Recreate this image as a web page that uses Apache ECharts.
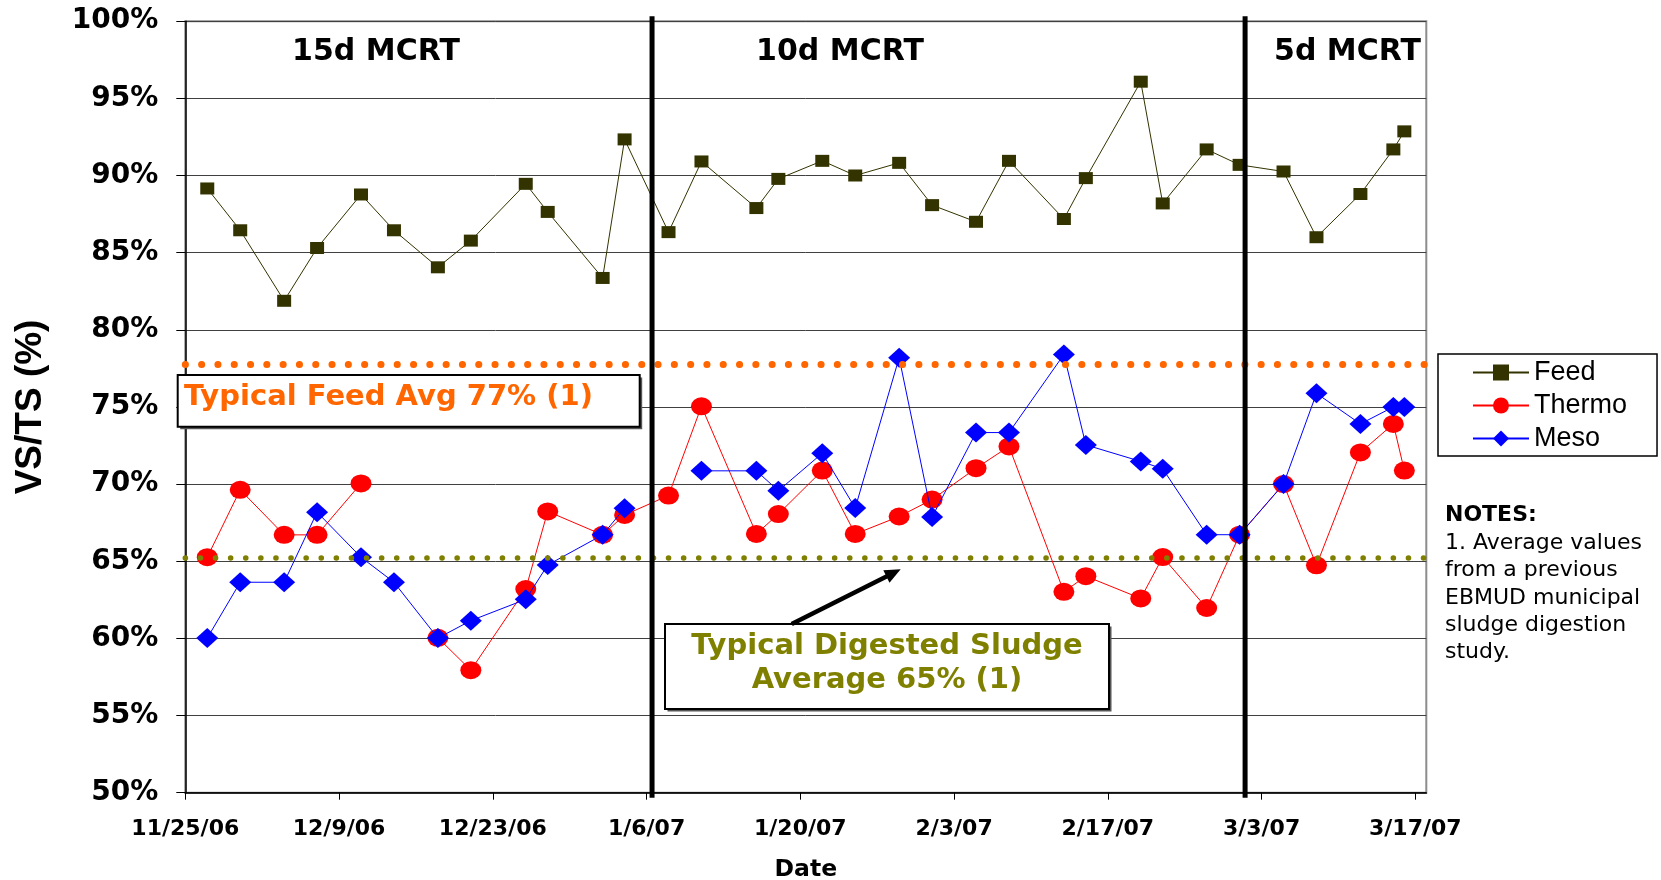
<!DOCTYPE html>
<html><head><meta charset="utf-8">
<script src="https://cdn.jsdelivr.net/npm/echarts@6/dist/echarts.min.js"></script>
<style>html,body{margin:0;padding:0;background:#fff}#c{width:1661px;height:880px}</style>
</head><body><div id="c"></div>
<script>
// ---- data ----
const startDate = '2006-11-25';
const endDate = '2007-03-18';
const tickDays = 14;
const dates = ['2006-11-27','2006-11-30','2006-12-04','2006-12-07','2006-12-11','2006-12-14','2006-12-18','2006-12-21','2006-12-26','2006-12-28',
  '2007-01-02','2007-01-04','2007-01-08','2007-01-11','2007-01-16','2007-01-18','2007-01-22','2007-01-25','2007-01-29','2007-02-01',
  '2007-02-05','2007-02-08','2007-02-13','2007-02-15','2007-02-20','2007-02-22','2007-02-26','2007-03-01','2007-03-05','2007-03-08',
  '2007-03-12','2007-03-15','2007-03-16'];
const feed = [89.16,86.45,81.88,85.30,88.77,86.45,84.05,85.78,89.46,87.64,
  83.36,92.34,86.33,90.91,87.89,89.78,90.95,90.0,90.82,88.08,
  87.0,90.95,87.18,89.83,96.08,88.19,91.69,90.69,90.26,86.0,
  88.8,91.69,92.86];
const thermo = [65.26,69.63,66.71,66.71,70.04,null,60.04,57.94,63.2,68.23,
  66.71,68.0,69.26,75.04,66.77,68.06,70.88,66.77,67.9,69.0,
  71.03,72.44,63.02,64.03,62.59,65.27,61.97,66.72,70.0,64.74,
  72.05,73.9,70.88];
const meso = [60.02,63.64,63.64,68.18,65.26,63.64,60.02,61.15,62.53,64.76,
  66.71,68.44,null,70.86,70.86,69.57,72.0,68.45,78.19,67.87,
  73.34,73.34,78.4,72.54,71.47,70.99,66.72,66.72,70.0,75.88,
  73.9,75.0,75.0];
const dividers = ['2007-01-06T12:00:00Z','2007-03-01T12:00:00Z'];
const periodLabels = ['15d MCRT','10d MCRT','5d MCRT'];
const refValues = [77.75, 65.2];
const yMin = 50, yMax = 100, yStep = 5;

// ---- helpers ----
const DAY = 864e5;
const t0 = Date.parse(startDate);
const dayOf = s => (Date.parse(s) - t0) / DAY;
const pts = arr => dates.map((d, i) => [dayOf(d), arr[i] == null ? '-' : arr[i]]);
const fmtDay = v => {
  if (Math.abs(v % tickDays) > 1e-6) return '';
  const d = new Date(t0 + v * DAY);
  return (d.getUTCMonth() + 1) + '/' + d.getUTCDate() + '/' + String(d.getUTCFullYear()).slice(2);
};
const DJ = '"DejaVu Sans"';
const boxWithShadow = (x, y, w, h) => ([
  {type: 'rect', z: 99, shape: {x: x + 2.5, y: y + 2.5, width: w, height: h}, style: {fill: '#555'}},
  {type: 'rect', z: 100, shape: {x: x, y: y, width: w, height: h}, style: {fill: '#fff', stroke: '#000', lineWidth: 2}}
]);

const chart = echarts.init(document.getElementById('c'), null, {renderer: 'canvas'});
chart.setOption({
  animation: false,
  backgroundColor: '#fff',
  grid: {left: 185.3, right: 234.7, top: 21.2, bottom: 87.3, outerBoundsMode: 'none', containLabel: false,
         show: true, borderColor: '#8c8c8c', borderWidth: 2, backgroundColor: 'transparent'},
  xAxis: {
    type: 'value', min: 0, max: dayOf(endDate), interval: tickDays,
    name: 'Date', nameLocation: 'middle', nameGap: 65,
    nameTextStyle: {fontFamily: 'DejaVu Sans', fontWeight: 'bold', fontSize: 23.5, color: '#000'},
    axisLine: {show: true, onZero: false, lineStyle: {color: '#000', width: 1.5}},
    axisTick: {show: true, length: 7, lineStyle: {color: '#000'}},
    axisLabel: {formatter: fmtDay, fontFamily: 'DejaVu Sans', fontWeight: 'bold', fontSize: 22, color: '#000', margin: 26, showMaxLabel: false},
    splitLine: {show: false}
  },
  yAxis: {
    type: 'value', min: yMin, max: yMax, interval: yStep,
    name: 'VS/TS (%)', nameLocation: 'middle', nameGap: 136,
    nameTextStyle: {fontFamily: 'Liberation Sans', fontWeight: 'bold', fontSize: 37, color: '#000'},
    axisLine: {show: true, lineStyle: {color: '#000', width: 1.5}},
    axisTick: {show: true, length: 9, lineStyle: {color: '#000'}},
    axisLabel: {formatter: '{value}%', fontFamily: 'DejaVu Sans', fontWeight: 'bold', fontSize: 28, color: '#000', margin: 27},
    splitLine: {show: true, lineStyle: {color: '#404040', width: 1}}
  },
  legend: {
    data: ['Feed', 'Thermo', 'Meso'], orient: 'vertical', left: 1438, top: 354,
    itemWidth: 56, itemHeight: 20, itemGap: 6,
    padding: [5, 30, 4, 34], borderColor: '#000', borderWidth: 1.5, backgroundColor: '#fff',
    textStyle: {fontFamily: 'Liberation Sans', fontSize: 27, color: '#000'}
  },
  series: [
    {name: 'Feed', type: 'line', data: pts(feed), symbol: 'rect', symbolSize: [14, 12], z: 2,
     lineStyle: {color: '#333300', width: 1}, itemStyle: {color: '#333300'}, emphasis: {disabled: true}},
    {name: 'Thermo', type: 'line', data: pts(thermo), symbol: 'circle', symbolSize: [21, 18], z: 3,
     lineStyle: {color: '#ff0000', width: 1}, itemStyle: {color: '#ff0000'}, emphasis: {disabled: true}},
    {name: 'Meso', type: 'line', data: pts(meso), symbol: 'diamond', symbolSize: [22, 20], z: 4,
     lineStyle: {color: '#0000ff', width: 1}, itemStyle: {color: '#0000ff'}, emphasis: {disabled: true}},
    {name: 'refs', type: 'line', data: [], z: 6, silent: true,
     markLine: {silent: true, symbol: ['none', 'none'], label: {show: false}, emphasis: {disabled: true},
       data: [
         {yAxis: refValues[0], lineStyle: {color: '#ff6600', width: 7, type: [0.1, 16.2], cap: 'round'}},
         {yAxis: refValues[1], lineStyle: {color: '#808000', width: 5.5, type: [0.1, 15], cap: 'round'}}
       ]}},
    {name: 'dividers', type: 'custom', data: dividers.map(d => [dayOf(d), yMax]), clip: false, z: 7, silent: true,
     encode: {x: 0, y: 1},
     renderItem: (params, api) => {
       const a = api.coord([api.value(0), yMax]);
       const b = api.coord([api.value(0), yMin]);
       return {type: 'line', shape: {x1: a[0], y1: a[1] - 5, x2: b[0], y2: b[1] + 5},
               style: {stroke: '#000', lineWidth: 5}};
     }}
  ],
  graphic: [
    {type: 'text', x: 376, y: 52.5, z: 100, style: {text: periodLabels[0], font: 'bold 30px ' + DJ, fill: '#000', align: 'center', verticalAlign: 'middle'}},
    {type: 'text', x: 840, y: 52.5, z: 100, style: {text: periodLabels[1], font: 'bold 30px ' + DJ, fill: '#000', align: 'center', verticalAlign: 'middle'}},
    {type: 'text', x: 1347.5, y: 52.5, z: 100, style: {text: periodLabels[2], font: 'bold 30px ' + DJ, fill: '#000', align: 'center', verticalAlign: 'middle'}},
    ...boxWithShadow(177.7, 375, 462, 51.7),
    {type: 'text', x: 184, y: 397, z: 101, style: {text: 'Typical Feed Avg 77% (1)', font: 'bold 29px ' + DJ, fill: '#ff6600', align: 'left', verticalAlign: 'middle'}},
    ...boxWithShadow(665, 624, 444, 85),
    {type: 'text', x: 887, y: 646, z: 101, style: {text: 'Typical Digested Sludge', font: 'bold 29px ' + DJ, fill: '#808000', align: 'center', verticalAlign: 'middle'}},
    {type: 'text', x: 887, y: 680, z: 101, style: {text: 'Average 65% (1)', font: 'bold 29px ' + DJ, fill: '#808000', align: 'center', verticalAlign: 'middle'}},
    {type: 'line', z: 100, shape: {x1: 791.7, y1: 624, x2: 887, y2: 576.2}, style: {stroke: '#000', lineWidth: 4.5}},
    {type: 'polygon', z: 100, shape: {points: [[900.7, 569.3], [889.5, 582.8], [883.3, 570.2]]}, style: {fill: '#000'}},
    {type: 'text', x: 1445, y: 515, z: 100, style: {text: 'NOTES:', font: 'bold 22px ' + DJ, fill: '#000', align: 'left', verticalAlign: 'middle'}},
    {type: 'text', x: 1445, y: 529.7, z: 100, style: {text: '1. Average values\nfrom a previous\nEBMUD municipal\nsludge digestion\nstudy.', font: '22px ' + DJ, lineHeight: 27.3, fill: '#000', align: 'left', verticalAlign: 'top'}}
  ]
});
</script>
</body></html>
